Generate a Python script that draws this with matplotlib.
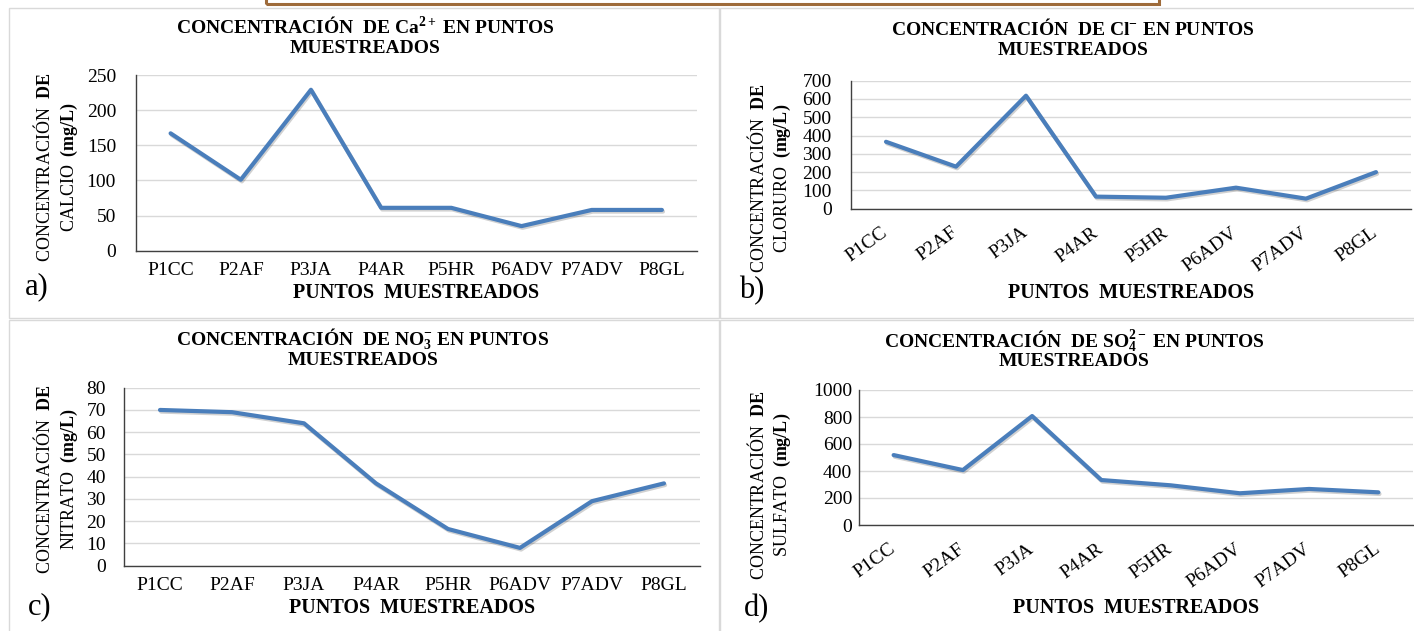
import matplotlib.pyplot as plt
import matplotlib.patheffects as pe
from matplotlib.patches import Rectangle

plt.rcParams["font.family"] = ["Liberation Serif", "DejaVu Serif"]
plt.rcParams["mathtext.fontset"] = "custom"
plt.rcParams["mathtext.rm"] = "Liberation Serif"
plt.rcParams["mathtext.bf"] = "Liberation Serif:bold"
plt.rcParams["mathtext.it"] = "Liberation Serif:italic"

puntos = ["P1CC", "P2AF", "P3JA", "P4AR", "P5HR", "P6ADV", "P7ADV", "P8GL"]

calcio = [167, 101, 229, 61, 61, 35, 58, 58]
cloruro = [366, 230, 618, 66, 60, 115, 55, 200]
nitrato = [70, 69, 64, 37, 16.5, 8, 29, 37]
sulfato = [518, 407, 807, 333, 294, 235, 267, 242]

calcio_ticks = [0, 50, 100, 150, 200, 250]
cloruro_ticks = [0, 100, 200, 300, 400, 500, 600, 700]
nitrato_ticks = [0, 10, 20, 30, 40, 50, 60, 70, 80]
sulfato_ticks = [0, 200, 400, 600, 800, 1000]

titulos = [
  r"CONCENTRACIÓN  DE Ca$^{\mathbf{2+}}$ EN PUNTOS",
  r"CONCENTRACIÓN  DE Cl$^{\mathbf{-}}$ EN PUNTOS",
  r"CONCENTRACIÓN  DE NO$_{\mathbf{3}}^{\mathbf{-}}$ EN PUNTOS",
  r"CONCENTRACIÓN  DE SO$_{\mathbf{4}}^{\mathbf{2-}}$ EN PUNTOS",
]
ylabels = ["CALCIO", "CLORURO", "NITRATO", "SULFATO"]
letras = ["a)", "b)", "c)", "d)"]

W, H = 1414, 631
BLUE = "#4a7ebb"
GRID = "#d9d9d9"

fig = plt.figure(figsize=(W / 100, H / 100), dpi=100)


def fx(px):
  return px / W


def fy(py):
  return 1 - py / H


def add_ax(left, right, top, bottom):
  return fig.add_axes([fx(left), fy(bottom), (right - left) / W, (bottom - top) / H])


def draw_panel(ax, values, ticks, rotated, ypad):
  x = range(len(puntos))
  ax.plot(x, values, color=BLUE, lw=3, solid_joinstyle="round", solid_capstyle="round",
          path_effects=[pe.SimpleLineShadow(offset=(0.8, -1.2), alpha=0.18), pe.Normal()],
          zorder=3)
  ax.set_xlim(-0.5, len(puntos) - 0.5)
  ax.set_ylim(ticks[0], ticks[-1])
  ax.set_yticks(ticks)
  ax.set_xticks(list(x))
  ax.set_xticklabels(puntos)
  ax.grid(axis="y", color=GRID, lw=1)
  ax.set_axisbelow(True)
  for s in ["top", "right"]:
    ax.spines[s].set_visible(False)
  for s in ["left", "bottom"]:
    ax.spines[s].set_color("#404040")
    ax.spines[s].set_linewidth(1.0)
  ax.tick_params(axis="both", length=0, labelsize=14, colors="black")
  ax.tick_params(axis="y", pad=ypad)
  if rotated:
    ax.tick_params(axis="x", pad=16)
    for lab in ax.get_xticklabels():
      lab.set_rotation(36)
      lab.set_ha("right")
      lab.set_va("center")
      lab.set_rotation_mode("anchor")
  else:
    ax.tick_params(axis="x", pad=8)


def panel_text(i, title_x, title_y, gap, yl_x, yl_y, xl_x, xl_y, let_x, let_y):
  # title lines placed by baseline so sub/superscripts do not shift them
  fig.text(fx(title_x), fy(title_y + 5), titulos[i], ha="center", va="baseline",
           fontsize=14, fontweight="bold")
  fig.text(fx(title_x), fy(title_y + 5 + gap), "MUESTREADOS", ha="center", va="baseline",
           fontsize=14, fontweight="bold")
  fig.text(fx(yl_x), fy(yl_y), r"CONCENTRACIÓN  $\mathbf{DE}$", rotation=90,
           ha="center", va="center", fontsize=13)
  fig.text(fx(yl_x + 25), fy(yl_y), ylabels[i] + r"  $\mathbf{(mg/L)}$", rotation=90,
           ha="center", va="center", fontsize=13)
  fig.text(fx(xl_x), fy(xl_y), "PUNTOS  MUESTREADOS", ha="center", va="center",
           fontsize=14.5, fontweight="bold")
  fig.text(fx(let_x), fy(let_y), letras[i], ha="left", va="center", fontsize=22)


# panel borders
for (l, t, r, b) in [(9, 8, 719, 318), (720, 8, 1420, 318),
                     (9, 320, 719, 640), (720, 320, 1420, 640)]:
  fig.add_artist(Rectangle((fx(l), fy(b)), (r - l) / W, (b - t) / H,
                           transform=fig.transFigure, fill=False, ec=GRID, lw=1))

# cropped brown frame at the top
fig.add_artist(Rectangle((fx(266), fy(4)), (1159 - 266) / W, 20 / H,
                         transform=fig.transFigure, fill=False, ec="#9e6b3a", lw=2.2))

ax_a = add_ax(135.5, 697, 75, 250.7)
ax_b = add_ax(851, 1411, 80.7, 208.7)
ax_c = add_ax(124, 700, 387.7, 565.7)
ax_d = add_ax(859, 1413, 390, 525)

draw_panel(ax_a, calcio, calcio_ticks, False, 14)
draw_panel(ax_b, cloruro, cloruro_ticks, True, 14)
draw_panel(ax_c, nitrato, nitrato_ticks, False, 13)
draw_panel(ax_d, sulfato, sulfato_ticks, True, 5)

panel_text(0, 365, 28, 20, 44, 167, 416, 293, 25, 287)
panel_text(1, 1073, 30, 20, 757, 178, 1131, 293, 739, 291)
panel_text(2, 363, 341, 19, 44, 479, 412, 608, 28, 607)
panel_text(3, 1074, 342, 19, 757, 485, 1136, 608, 744, 609)

fig.savefig("out.png", dpi=100)
